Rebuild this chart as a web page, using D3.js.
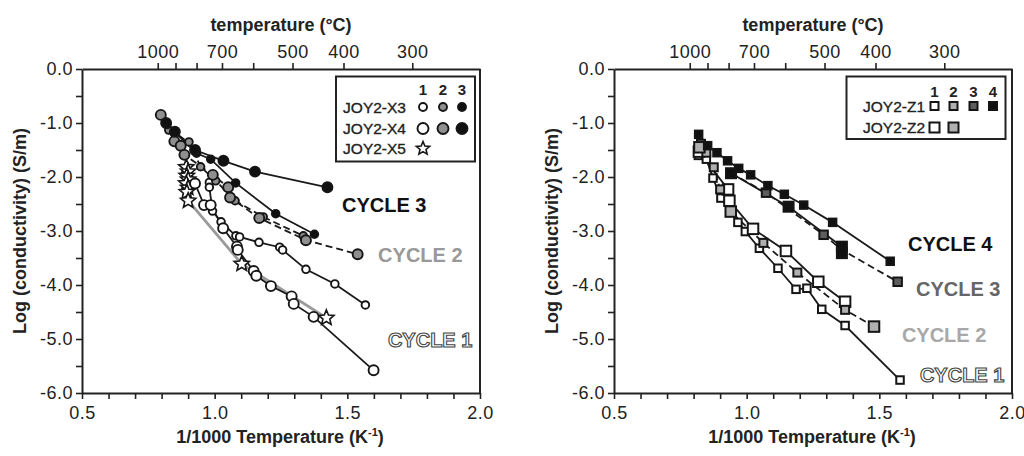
<!DOCTYPE html>
<html><head><meta charset="utf-8">
<script src="https://cdn.jsdelivr.net/npm/d3@7"></script>
<style>
body{margin:0;background:#fff}
svg{display:block}
text{font-family:"Liberation Sans",Arial,Helvetica,sans-serif;fill:#222}
</style>
</head><body>
<svg id="c" width="1024" height="456"></svg>
<script>
// ---------- axis ticks ----------
const xTicks = [0.5,0.6,0.7,0.8,0.9,1.0,1.1,1.2,1.3,1.4,1.5,1.6,1.7,1.8,1.9,2.0];
const xLabelTicks = [0.5,1.0,1.5,2.0];
const yTicks = [0,-0.5,-1,-1.5,-2,-2.5,-3,-3.5,-4,-4.5,-5,-5.5,-6];
const yLabelTicks = [0,-1,-2,-3,-4,-5,-6];
const tempTicks = [1000,900,800,700,600,500,400,300];
const tempLabelTicks = [1000,700,500,400,300];

// ---------- left panel: JOY2-X ----------
const X3c1_x = [0.98,0.98,0.992,1.024,1.080,1.094,1.167,1.245,1.256,1.344,1.453,1.568];
const X3c1_y = [-2.10,-2.19,-2.63,-2.83,-3.09,-3.11,-3.21,-3.30,-3.35,-3.71,-3.98,-4.37];
const X4c1_x = [0.926,0.960,0.985,1.032,1.084,1.087,1.147,1.157,1.212,1.290,1.298,1.373,1.599];
const X4c1_y = [-2.12,-2.52,-2.52,-2.95,-3.29,-3.35,-3.74,-3.83,-4.02,-4.21,-4.35,-4.59,-5.58];
const X3c2_x = [0.827,0.903,0.947,1.004,1.077,1.183,1.334];
const X3c2_y = [-1.13,-1.35,-1.81,-2.07,-2.44,-2.74,-3.09];
const X4c2_x = [0.797,0.848,0.872,0.886,0.993,1.051,1.058,1.168,1.344,1.539];
const X4c2_y = [-0.85,-1.34,-1.42,-1.59,-1.96,-2.19,-2.38,-2.76,-3.17,-3.43];
const X3c3_x = [0.820,0.932,0.985,1.079,1.230,1.376];
const X3c3_y = [-1.03,-1.56,-1.67,-2.11,-2.68,-3.06];
const X4c3_x = [0.817,0.850,0.926,1.033,1.152,1.425];
const X4c3_y = [-1.00,-1.16,-1.50,-1.70,-1.90,-2.19];
const X5c1_x = [0.893,0.900,0.895,0.900,0.893,0.900,0.895,0.900,1.102,1.421];
const X5c1_y = [-1.82,-1.90,-1.98,-2.05,-2.12,-2.20,-2.28,-2.44,-3.61,-4.61];

// ---------- right panel: JOY2-Z ----------
const Z1c1_x = [0.818,0.848,0.873,0.903,0.967,0.995,1.048,1.118,1.186,1.227,1.283,1.371,1.578];
const Z1c1_y = [-1.60,-1.67,-2.02,-2.39,-2.84,-3.01,-3.32,-3.69,-4.08,-4.06,-4.45,-4.75,-5.76];
const Z2c1_x = [0.820,0.930,0.935,1.024,1.148,1.270,1.371];
const Z2c1_y = [-1.53,-2.23,-2.44,-2.96,-3.37,-3.94,-4.31];
const Z1c2_x = [0.828,0.848,0.876,0.900,0.940,1.063,1.191,1.371,1.480];
const Z1c2_y = [-1.385,-1.55,-1.82,-2.23,-2.64,-3.22,-3.77,-4.46,-4.77];
const Z2c2_x = [0.822,0.940,1.480];
const Z2c2_y = [-1.45,-2.64,-4.77];
const Z1c3_x = [0.941,1.073,1.290,1.359,1.569];
const Z1c3_y = [-1.93,-2.29,-3.07,-3.35,-3.94];
const Z1c3b_x = [0.941,1.158,1.359,1.359];
const Z1c3b_y = [-1.93,-2.55,-3.29,-3.41];
const Z1c4_x = [0.819,0.853,0.888,0.928,0.970,1.015,1.080,1.142,1.215,1.324,1.541];
const Z1c4_y = [-1.21,-1.42,-1.55,-1.70,-1.84,-1.96,-2.16,-2.32,-2.52,-2.84,-3.56];

const zip = (xs, ys) => xs.map((x, i) => ({x, y: ys[i]}));

const svg = d3.select('#c');

function starPath(R) {
  const r = R * 0.45, pts = [];
  for (let i = 0; i < 10; i++) {
    const a = -Math.PI / 2 + i * Math.PI / 5, rr = i % 2 ? r : R;
    pts.push([rr * Math.cos(a), rr * Math.sin(a)]);
  }
  return 'M' + pts.map(p => p.join(',')).join('L') + 'Z';
}

function drawMarker(sel, shape, size, fill) {
  if (shape === 'circle') {
    sel.append('circle').attr('r', size).attr('fill', fill).attr('stroke', '#151515').attr('stroke-width', 1.9);
  } else if (shape === 'square') {
    sel.append('rect').attr('x', -size / 2).attr('y', -size / 2).attr('width', size).attr('height', size)
      .attr('fill', fill).attr('stroke', '#151515').attr('stroke-width', 2);
  } else if (shape === 'star') {
    sel.append('path').attr('d', starPath(size)).attr('fill', fill).attr('stroke', '#151515')
      .attr('stroke-width', 1.6).attr('stroke-linejoin', 'miter');
  }
}

function panel(x0, series, cycleLabels) {
  const x1 = x0 + 398, yTop = 69, yBot = 393;
  const x = d3.scaleLinear().domain([0.5, 2.0]).range([x0, x1]);
  const y = d3.scaleLinear().domain([-6, 0]).range([yBot, yTop]);
  const g = svg.append('g');

  const bx = g.append('g').attr('transform', `translate(0,${yBot})`)
    .call(d3.axisBottom(x).tickValues(xTicks).tickSize(6).tickSizeOuter(0)
      .tickFormat(d => xLabelTicks.some(v => Math.abs(v - d) < 1e-9) ? d3.format('.1f')(d) : ''));
  const ly = g.append('g').attr('transform', `translate(${x0},0)`)
    .call(d3.axisLeft(y).tickValues(yTicks).tickSize(6).tickSizeOuter(0)
      .tickFormat(d => yLabelTicks.some(v => Math.abs(v - d) < 1e-9) ? d3.format('.1f')(d).replace('−', '-') : ''));
  const inv = tempTicks.map(t => 1000 / (t + 273.15));
  const tx = g.append('g').attr('transform', `translate(0,${yTop})`)
    .call(d3.axisTop(x).tickValues(inv).tickSize(6).tickSizeOuter(0)
      .tickFormat(d => {
        const t = Math.round(1000 / d - 273.15);
        return tempLabelTicks.includes(t) ? String(t) : '';
      }));
  [bx, ly, tx].forEach(a => {
    a.select('.domain').attr('stroke', '#222').attr('stroke-width', 2);
    a.selectAll('.tick line').attr('stroke', '#222').attr('stroke-width', 1.6);
    a.selectAll('.tick text').attr('font-size', 18).attr('fill', '#222')
      .attr('font-family', '"Liberation Sans",Arial,sans-serif').style('letter-spacing', '0.5px');
  });
  bx.selectAll('.tick text').attr('dy', '0.95em');
  ly.selectAll('.tick text').attr('x', -9);
  tx.selectAll('.tick text').attr('dy', '-0.1em');
  g.append('line').attr('x1', x1).attr('x2', x1).attr('y1', yTop).attr('y2', yBot)
    .attr('stroke', '#222').attr('stroke-width', 2);

  g.append('text').attr('x', (x0 + x1) / 2).attr('y', 31).attr('text-anchor', 'middle')
    .attr('font-size', 18).attr('font-weight', 'bold').text('temperature (°C)');
  const xt = g.append('text').attr('x', (x0 + x1) / 2 - 1).attr('y', 443).attr('text-anchor', 'middle')
    .attr('font-size', 18).attr('font-weight', 'bold');
  xt.append('tspan').text('1/1000 Temperature (K');
  xt.append('tspan').attr('font-size', 11).attr('dy', -7).text('-1');
  xt.append('tspan').attr('dy', 7).text(')');
  g.append('text').attr('transform', `translate(${x0 - 56},${(yTop + yBot) / 2}) rotate(-90)`)
    .attr('text-anchor', 'middle').attr('font-size', 18).attr('font-weight', 'bold')
    .text('Log (conductivity) (S/m)');

  const line = d3.line().x(d => x(d.x)).y(d => y(d.y));
  series.forEach(s => {
    if (!s.line) return;
    g.append('path').attr('d', line(zip(s.xs, s.ys))).attr('fill', 'none')
      .attr('stroke', s.lineColor || '#1a1a1a').attr('stroke-width', s.lineWidth || 1.8)
      .attr('stroke-dasharray', s.dash || null);
  });
  series.forEach(s => {
    zip(s.xs, s.ys).forEach(d => {
      const m = g.append('g').attr('transform', `translate(${x(d.x)},${y(d.y)})`);
      drawMarker(m, s.shape, s.size, s.fill);
    });
  });

  cycleLabels.forEach(c => {
    const t = g.append('text').attr('x', x(c.x)).attr('y', y(c.y)).attr('font-size', 20)
      .attr('font-weight', 'bold').text(c.text);
    if (c.outline) {
      t.attr('fill', '#fff').style('fill', '#fff').attr('stroke', '#444').attr('stroke-width', 1.1);
    } else {
      t.attr('fill', c.color).style('fill', c.color);
    }
  });
  return {g, x, y};
}

const GRAY = '#8f8f8f', BLACK = '#111';
const left = panel(82, [
  {xs: X5c1_x, ys: X5c1_y, shape: 'star', size: 8, fill: '#fff', line: true, lineColor: '#9a9a9a', lineWidth: 2.8},
  {xs: X3c1_x, ys: X3c1_y, shape: 'circle', size: 3.8, fill: '#fff', line: true},
  {xs: X4c1_x, ys: X4c1_y, shape: 'circle', size: 5, fill: '#fff', line: true},
  {xs: X3c2_x, ys: X3c2_y, shape: 'circle', size: 3.8, fill: GRAY, line: true, dash: '7,4'},
  {xs: X4c2_x, ys: X4c2_y, shape: 'circle', size: 5, fill: GRAY, line: true, dash: '7,4'},
  {xs: X3c3_x, ys: X3c3_y, shape: 'circle', size: 3.8, fill: BLACK, line: true},
  {xs: X4c3_x, ys: X4c3_y, shape: 'circle', size: 5, fill: BLACK, line: true}
], [
  {text: 'CYCLE 3', x: 1.48, y: -2.65, color: '#111'},
  {text: 'CYCLE 2', x: 1.616, y: -3.574, color: '#999'},
  {text: 'CYCLE 1', x: 1.653, y: -5.148, outline: true}
]);

{
  const g = left.g.append('g');
  g.append('rect').attr('x', 336).attr('y', 76.5).attr('width', 139).attr('height', 85)
    .attr('fill', '#fff').attr('stroke', '#222').attr('stroke-width', 2);
  const cols = [423, 443, 462];
  ['1', '2', '3'].forEach((t, i) => g.append('text').attr('x', cols[i]).attr('y', 95)
    .attr('text-anchor', 'middle').attr('font-size', 15).attr('font-weight', 'bold').text(t));
  const rows = [
    {name: 'JOY2-X3', y: 107, fills: ['#fff', GRAY, BLACK], shape: 'circle', size: 4},
    {name: 'JOY2-X4', y: 128.5, fills: ['#fff', GRAY, BLACK], shape: 'circle', size: 5.5},
    {name: 'JOY2-X5', y: 148.5, fills: ['#fff'], shape: 'star', size: 7}
  ];
  rows.forEach(r => {
    g.append('text').attr('x', 406).attr('y', r.y + 5.5).attr('text-anchor', 'end')
      .attr('font-size', 15.5).attr('stroke', '#222').attr('stroke-width', 0.35).text(r.name);
    r.fills.forEach((f, i) => {
      const m = g.append('g').attr('transform', `translate(${cols[i]},${r.y})`);
      drawMarker(m, r.shape, r.size, f);
    });
  });
}

const LGRAY = '#b0b0b0', DGRAY = '#5e5e5e';
const right = panel(614, [
  {xs: Z1c1_x, ys: Z1c1_y, shape: 'square', size: 7.5, fill: '#fff', line: true},
  {xs: Z2c1_x, ys: Z2c1_y, shape: 'square', size: 10.5, fill: '#fff', line: true},
  {xs: Z1c2_x, ys: Z1c2_y, shape: 'square', size: 8, fill: LGRAY, line: true, dash: '7,4'},
  {xs: Z2c2_x, ys: Z2c2_y, shape: 'square', size: 10.5, fill: LGRAY, line: false},
  {xs: Z1c3_x, ys: Z1c3_y, shape: 'square', size: 8.5, fill: DGRAY, line: true, dash: '7,4'},
  {xs: Z1c3b_x, ys: Z1c3b_y, shape: 'square', size: 10, fill: BLACK, line: true},
  {xs: Z1c4_x, ys: Z1c4_y, shape: 'square', size: 7.5, fill: BLACK, line: true}
], [
  {text: 'CYCLE 4', x: 1.608, y: -3.365, color: '#111'},
  {text: 'CYCLE 3', x: 1.638, y: -4.204, color: '#666'},
  {text: 'CYCLE 2', x: 1.585, y: -5.05, color: '#a8a8a8'},
  {text: 'CYCLE 1', x: 1.653, y: -5.79, outline: true}
]);

{
  const g = right.g.append('g');
  g.append('rect').attr('x', 846.5).attr('y', 76.5).attr('width', 159).attr('height', 62.5)
    .attr('fill', '#fff').attr('stroke', '#222').attr('stroke-width', 2);
  const cols = [934.5, 953.5, 973.5, 993];
  ['1', '2', '3', '4'].forEach((t, i) => g.append('text').attr('x', cols[i]).attr('y', 96.5)
    .attr('text-anchor', 'middle').attr('font-size', 15).attr('font-weight', 'bold').text(t));
  const rows = [
    {name: 'JOY2-Z1', y: 106, fills: ['#fff', LGRAY, DGRAY, BLACK], size: 8},
    {name: 'JOY2-Z2', y: 127.5, fills: ['#fff', LGRAY], size: 10}
  ];
  rows.forEach(r => {
    g.append('text').attr('x', 925).attr('y', r.y + 5.5).attr('text-anchor', 'end')
      .attr('font-size', 15.5).attr('stroke', '#222').attr('stroke-width', 0.35).text(r.name);
    r.fills.forEach((f, i) => {
      const m = g.append('g').attr('transform', `translate(${cols[i]},${r.y})`);
      drawMarker(m, 'square', r.size, f);
    });
  });
}
</script>
</body></html>
